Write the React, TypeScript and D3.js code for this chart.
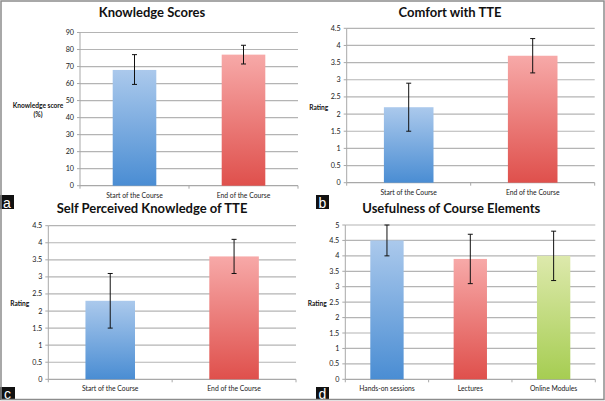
import React from "react";
import * as d3 from "d3";

// ---------- DATA ----------
const courseCategories = ["Start of the Course", "End of the Course"];

const knowledgeMeans = [68, 77];
const knowledgeLow = [59.5, 71.5];
const knowledgeHigh = [77, 82.5];
const knowledgeTicks = [0, 10, 20, 30, 40, 50, 60, 70, 80, 90];

const comfortMeans = [2.2, 3.7];
const comfortLow = [1.5, 3.2];
const comfortHigh = [2.9, 4.2];

const selfMeans = [2.3, 3.6];
const selfLow = [1.5, 3.1];
const selfHigh = [3.1, 4.1];

const ratingTicks = [0, 0.5, 1, 1.5, 2, 2.5, 3, 3.5, 4, 4.5];

const elementCategories = ["Hands-on sessions", "Lectures", "Online Modules"];
const elementMeans = [4.5, 3.9, 4.0];
const elementLow = [4.0, 3.1, 3.2];
const elementHigh = [5.0, 4.7, 4.8];
const elementTicks = [0, 0.5, 1, 1.5, 2, 2.5, 3, 3.5, 4, 4.5, 5];

const titles = [
  "Knowledge Scores",
  "Comfort with TTE",
  "Self Perceived Knowledge of TTE",
  "Usefulness of Course Elements",
];
const panelLetters = ["a", "b", "c", "d"];

// ---------- STYLE ----------
const FONT = "Lato, 'Open Sans', sans-serif";
const gradIds = ["gBlue", "gRed", "gGreen"];

type PanelProps = {
  title: string;
  categories: string[];
  means: number[];
  low: number[];
  high: number[];
  ticks: number[];
  yLabel: string[];
  left: number;
  right: number;
  top: number;
  bottom: number;
  titleX: number;
  titleY: number;
  yLabelX: number;
  yLabelY: number;
  xLabelY: number;
};

function Panel(p: PanelProps) {
  const maxT = p.ticks[p.ticks.length - 1];
  const y = d3.scaleLinear().domain([0, maxT]).range([p.bottom, p.top]);
  const x = d3
    .scaleBand<string>()
    .domain(p.categories)
    .range([p.left, p.right])
    .paddingInner(0.6)
    .paddingOuter(0.3);
  const band = (p.right - p.left) / p.categories.length;
  const bw = x.bandwidth();
  return (
    <g>
      <text
        x={p.titleX}
        y={p.titleY}
        textAnchor="middle"
        dominantBaseline="central"
        fontFamily={FONT}
        fontWeight="bold"
        fontSize={13}
        fill="#111"
      >
        {p.title}
      </text>
      {/* gridlines */}
      {p.ticks.map((t) => (
        <line
          key={"g" + t}
          x1={p.left}
          x2={p.right}
          y1={y(t)}
          y2={y(t)}
          stroke={t === 0 ? "#a8a8a8" : "#b4b4b4"}
          strokeWidth={1.2}
        />
      ))}
      {/* y axis */}
      <line x1={p.left} x2={p.left} y1={p.top} y2={p.bottom} stroke="#a8a8a8" strokeWidth={1} />
      {p.ticks.map((t) => (
        <g key={"t" + t}>
          <line x1={p.left - 3} x2={p.left} y1={y(t)} y2={y(t)} stroke="#a8a8a8" strokeWidth={1} />
          <text
            x={p.left - 6}
            y={y(t)}
            textAnchor="end"
            dominantBaseline="central"
            fontFamily={FONT}
            fontSize={7.2}
            fill="#1a1a1a"
          >
            {String(t)}
          </text>
        </g>
      ))}
      {/* x ticks */}
      {d3.range(p.categories.length + 1).map((i) => (
        <line
          key={"xt" + i}
          x1={p.left + i * band}
          x2={p.left + i * band}
          y1={p.bottom}
          y2={p.bottom + 3}
          stroke="#a8a8a8"
          strokeWidth={1}
        />
      ))}
      {/* bars */}
      {p.categories.map((c, i) => (
        <rect
          key={"b" + c}
          x={x(c)}
          y={y(p.means[i])}
          width={bw}
          height={p.bottom - y(p.means[i])}
          fill={`url(#${gradIds[i]})`}
        />
      ))}
      {/* error bars */}
      {p.categories.map((c, i) => {
        const cx = (x(c) as number) + bw / 2;
        return (
          <g key={"e" + c} stroke="#111" strokeWidth={1}>
            <line x1={cx} x2={cx} y1={y(p.high[i])} y2={y(p.low[i])} />
            <line x1={cx - 2.5} x2={cx + 2.5} y1={y(p.high[i])} y2={y(p.high[i])} />
            <line x1={cx - 2.5} x2={cx + 2.5} y1={y(p.low[i])} y2={y(p.low[i])} />
          </g>
        );
      })}
      {/* x labels */}
      {p.categories.map((c) => (
        <text
          key={"xl" + c}
          x={(x(c) as number) + bw / 2}
          y={p.xLabelY}
          textAnchor="middle"
          dominantBaseline="central"
          fontFamily={FONT}
          fontSize={6.8}
          fill="#1a1a1a"
        >
          {c}
        </text>
      ))}
      {/* y label */}
      {p.yLabel.map((l, k) => (
        <text
          key={"yl" + k}
          x={p.yLabelX}
          y={p.yLabelY + (k - (p.yLabel.length - 1) / 2) * 8.5}
          textAnchor="middle"
          dominantBaseline="central"
          fontFamily={FONT}
          fontWeight="bold"
          fontSize={6.6}
          fill="#111"
        >
          {l}
        </text>
      ))}
    </g>
  );
}

function Letter({ x, y, w, h, t }: { x: number; y: number; w: number; h: number; t: string }) {
  return (
    <g>
      <rect x={x} y={y} width={w} height={h} fill="#111" />
      <text
        x={x + w / 2}
        y={y + h / 2 + 0.5}
        textAnchor="middle"
        dominantBaseline="central"
        fontFamily="'Liberation Sans', Arial, sans-serif"
        fontSize={14}
        fill="#fff"
      >
        {t}
      </text>
    </g>
  );
}

export default function App() {
  return (
    <div style={{ position: "absolute", left: 0, top: 0 }}>
      <svg width={605} height={401} style={{ display: "block", background: "#fff" }}>
        <defs>
          <linearGradient id="gBlue" x1="0" y1="0" x2="0" y2="1">
            <stop offset="0" stopColor="#abc9ec" />
            <stop offset="1" stopColor="#4a8dd3" />
          </linearGradient>
          <linearGradient id="gRed" x1="0" y1="0" x2="0" y2="1">
            <stop offset="0" stopColor="#f7a9a8" />
            <stop offset="1" stopColor="#df504c" />
          </linearGradient>
          <linearGradient id="gGreen" x1="0" y1="0" x2="0" y2="1">
            <stop offset="0" stopColor="#dde9ac" />
            <stop offset="1" stopColor="#a6cd52" />
          </linearGradient>
        </defs>
        <Panel
          title={titles[0]}
          categories={courseCategories}
          means={knowledgeMeans}
          low={knowledgeLow}
          high={knowledgeHigh}
          ticks={knowledgeTicks}
          yLabel={["Knowledge score", "(%)"]}
          left={80}
          right={298}
          top={32.5}
          bottom={185.7}
          titleX={152}
          titleY={11.5}
          yLabelX={38}
          yLabelY={109.5}
          xLabelY={195}
        />
        <Panel
          title={titles[1]}
          categories={courseCategories}
          means={comfortMeans}
          low={comfortLow}
          high={comfortHigh}
          ticks={ratingTicks}
          yLabel={["Rating"]}
          left={346.7}
          right={594.7}
          top={28.3}
          bottom={182.7}
          titleX={450}
          titleY={12}
          yLabelX={318.7}
          yLabelY={107}
          xLabelY={191.7}
        />
        <Panel
          title={titles[2]}
          categories={courseCategories}
          means={selfMeans}
          low={selfLow}
          high={selfHigh}
          ticks={ratingTicks}
          yLabel={["Rating"]}
          left={48.3}
          right={296}
          top={225.7}
          bottom={379.3}
          titleX={152}
          titleY={208.3}
          yLabelX={19.7}
          yLabelY={302.7}
          xLabelY={388.3}
        />
        <Panel
          title={titles[3]}
          categories={elementCategories}
          means={elementMeans}
          low={elementLow}
          high={elementHigh}
          ticks={elementTicks}
          yLabel={["Rating"]}
          left={345.3}
          right={595.3}
          top={225}
          bottom={379.3}
          titleX={451.3}
          titleY={208.3}
          yLabelX={317.3}
          yLabelY={302.7}
          xLabelY={388.3}
        />
        <Letter x={0} y={195} w={14} h={14} t={panelLetters[0]} />
        <Letter x={316} y={195} w={13} h={14} t={panelLetters[1]} />
        <Letter x={0} y={387} w={15} h={13} t={panelLetters[2]} />
        <Letter x={316} y={387} w={13} h={13} t={panelLetters[3]} />
        <rect x={1} y={1} width={603} height={398.5} fill="none" stroke="#8c8c8c" strokeWidth={1.5} />
      </svg>
    </div>
  );
}
